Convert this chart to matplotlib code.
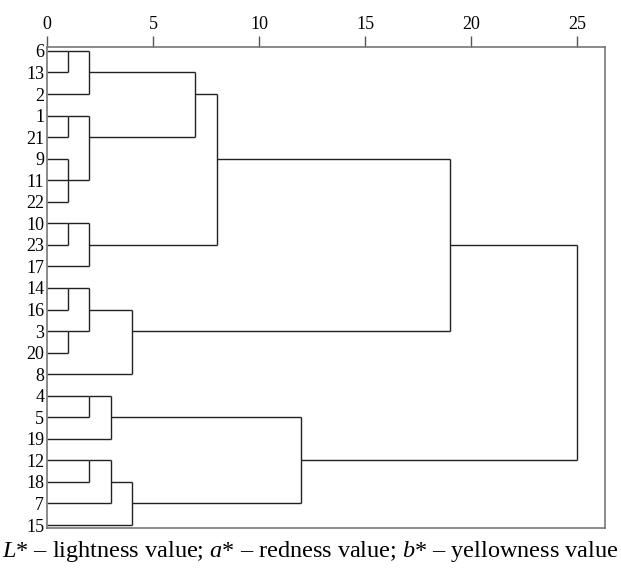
import numpy as np
import matplotlib
matplotlib.use('Agg')
import matplotlib.pyplot as plt

plt.rcParams['font.family'] = ['Liberation Serif', 'DejaVu Serif']
plt.rcParams['mathtext.fontset'] = 'custom'
plt.rcParams['mathtext.it'] = 'Liberation Serif:italic'
plt.rcParams['mathtext.rm'] = 'Liberation Serif'

# leaf order, top to bottom
leaves = [6, 13, 2, 1, 21, 9, 11, 22, 10, 23, 17, 14, 16, 3, 20, 8, 4, 5, 19, 12, 18, 7, 15]

# merges: children are leaf labels (int) or earlier merges ('c<index>')
merge_children = [
    [6, 13], ['c0', 2], [1, 21], [9, 11, 22], ['c2', 'c3'], ['c1', 'c4'],
    [10, 23], ['c6', 17], ['c5', 'c7'],
    [14, 16], [3, 20], ['c9', 'c10'], ['c11', 8], ['c8', 'c12'],
    [4, 5], ['c14', 19], [12, 18], ['c16', 7], ['c17', 15], ['c15', 'c18'],
    ['c13', 'c19'],
]
merge_heights = [1, 2, 1, 1, 2, 7, 1, 2, 8, 1, 1, 2, 4, 19, 2, 3, 2, 3, 4, 12, 25]

x_ticks = [0, 5, 10, 15, 20, 25]

fig = plt.figure(figsize=(6.21, 5.70), dpi=100)
ax = fig.add_axes([0.0757, 0.0732, 0.899, 0.845])

nodes = {}
for i, lab in enumerate(leaves):
    nodes[lab] = (i, 0.0)

lc = '#222222'
for k, (ch, h) in enumerate(zip(merge_children, merge_heights)):
    pts = [nodes[c] for c in ch]
    rows = [p[0] for p in pts]
    for r, x0 in pts:
        ax.plot([x0, h], [r, r], color=lc, lw=1.0, solid_capstyle='butt')
    ax.plot([h, h], [min(rows), max(rows)], color=lc, lw=1.0, solid_capstyle='butt')
    nodes['c%d' % k] = ((min(rows) + max(rows)) // 2, h)

ax.set_xlim(0, 26.33)
ax.set_ylim(22.15, -0.2)

ax.xaxis.tick_top()
ax.set_xticks(x_ticks)
ax.set_xticklabels([str(t) for t in x_ticks], fontsize=13)
ax.tick_params(axis='x', direction='out', length=8, width=1, color='#555555', pad=2)

ax.set_yticks(range(len(leaves)))
ax.set_yticklabels([str(l) for l in leaves], fontsize=13)
ax.tick_params(axis='y', length=0, pad=2)

for s in ax.spines.values():
    s.set_color('#777777')
    s.set_linewidth(1.2)

fig.text(0.5, 0.033,
         r'$L$* – lightness value; $a$* – redness value; $b$* – yellowness value',
         ha='center', va='center', fontsize=17.5)

plt.savefig('out.png', dpi=100)
